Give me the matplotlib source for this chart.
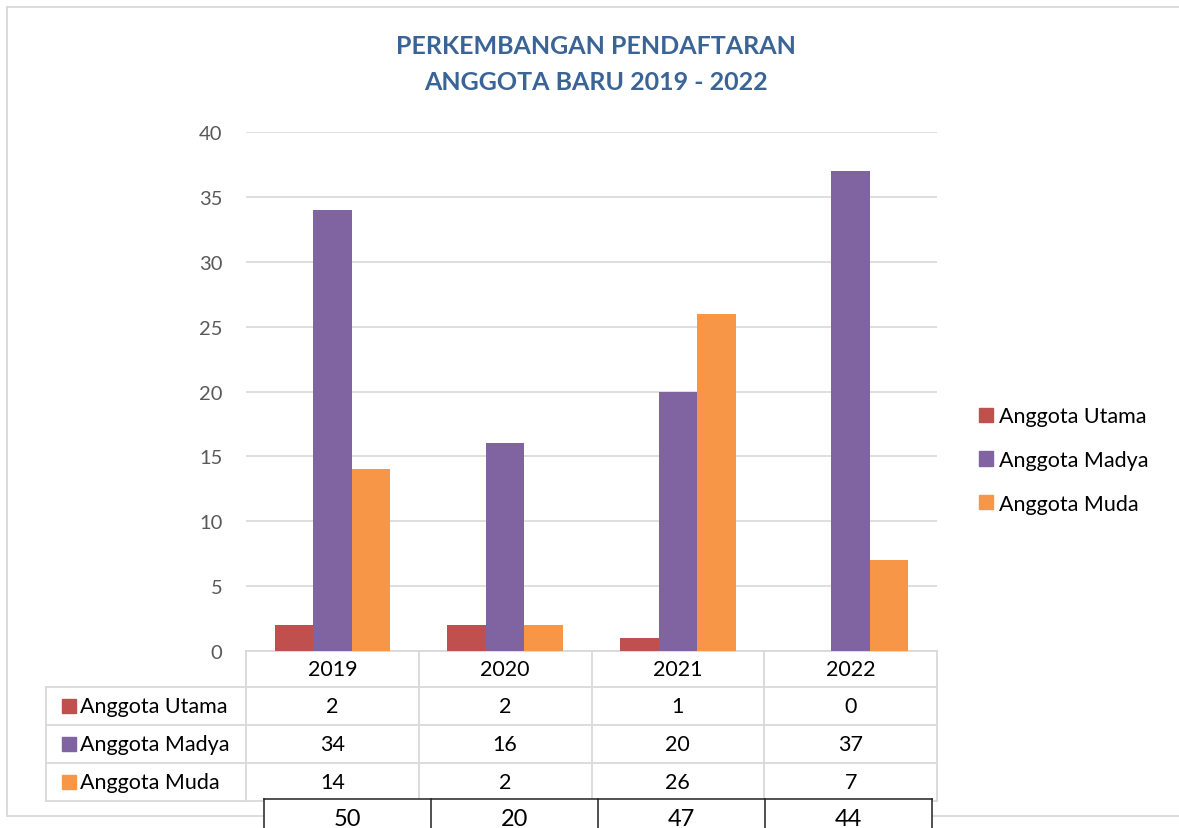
import matplotlib.pyplot as plt
import numpy as np
from matplotlib.patches import Rectangle, Patch

# data
years = ["2019", "2020", "2021", "2022"]
series = ["Anggota Utama", "Anggota Madya", "Anggota Muda"]
utama = [2, 2, 1, 0]
madya = [34, 16, 20, 37]
muda = [14, 2, 26, 7]
values = [utama, madya, muda]
colors = ["#C0504D", "#8064A2", "#F79646"]
title_lines = ["PERKEMBANGAN PENDAFTARAN", "ANGGOTA BARU 2019 - 2022"]

plt.rcParams['font.family'] = ['Lato', 'DejaVu Sans']

W, H = 1179, 829
fig = plt.figure(figsize=(W / 100, H / 100), dpi=100)

# plot area in pixels
PL, PR, PT, PB = 246, 937, 133, 652
colw = (PR - PL) / len(years)
fs = 15.5

ov = fig.add_axes([0, 0, 1, 1], zorder=0)
ov.set_xlim(0, W)
ov.set_ylim(H, 0)
ov.axis('off')

ax = fig.add_axes([PL / W, 1 - PB / H, (PR - PL) / W, (PB - PT) / H], zorder=1)
ax.patch.set_visible(False)

x = np.arange(len(years))
bw = 0.2225
for i, (name, vals) in enumerate(zip(series, values)):
    ax.bar(x + (i - 1) * bw, vals, bw, color=colors[i], label=name, zorder=3)

ax.set_xlim(-0.5, len(years) - 0.5)
ax.set_ylim(0, 40)
ax.set_yticks(range(0, 41, 5))
ax.set_xticks([])
ax.tick_params(axis='y', length=0, pad=17, labelsize=14.5, labelcolor='#595959')
ax.yaxis.grid(True, color='#D9D9D9', lw=1.2, zorder=0)
for s in ax.spines.values():
    s.set_visible(False)

grid_c = '#D9D9D9'
# outer frame
ov.plot([7, W + 5], [8, 8], color=grid_c, lw=1.3)
ov.plot([7, 7], [8, 817], color=grid_c, lw=1.3)
ov.plot([7, W + 5], [817, 817], color=grid_c, lw=1.3)

# data table under the chart
row_h = 38
hdr_top, hdr_bot = PB, 688
label_left = 46
rows_y = [hdr_bot + k * row_h for k in range(len(series) + 1)]
ov.plot([PL, PR], [hdr_top, hdr_top], color=grid_c, lw=1.3)
for yy in rows_y:
    ov.plot([label_left, PR], [yy, yy], color=grid_c, lw=1.3)
for k in range(len(years) + 1):
    xx = PL + k * colw
    ov.plot([xx, xx], [hdr_top, rows_y[-1]], color=grid_c, lw=1.3)
ov.plot([label_left, label_left], [hdr_bot, rows_y[-1]], color=grid_c, lw=1.3)

for j, yr in enumerate(years):
    ov.text(PL + (j + 0.5) * colw, (hdr_top + hdr_bot) / 2, yr,
            ha='center', va='center', fontsize=fs, color='black')
for i, (name, vals) in enumerate(zip(series, values)):
    yc = rows_y[i] + row_h / 2
    ov.add_patch(Rectangle((62, yc - 7), 14, 14, color=colors[i]))
    ov.text(80, yc, name, ha='left', va='center', fontsize=fs, color='black')
    for j, v in enumerate(vals):
        ov.text(PL + (j + 0.5) * colw, yc, str(v), ha='center', va='center',
                fontsize=fs, color='black')

# totals row pasted below
totals = [sum(v) for v in zip(*values)]
tx0, tcw, ttop = 264, 167, 800
ov.add_patch(Rectangle((tx0, ttop), tcw * len(totals), 40, facecolor='white',
                       edgecolor='none', zorder=4))
ov.plot([tx0, tx0 + tcw * len(totals)], [ttop, ttop], color='#222222', lw=1.1, zorder=5)
for k in range(len(totals) + 1):
    ov.plot([tx0 + k * tcw] * 2, [ttop, H + 5], color='#222222', lw=1.1, zorder=5)
for j, t in enumerate(totals):
    ov.text(tx0 + (j + 0.5) * tcw, 820, str(t), ha='center', va='center',
            fontsize=17, color='black', zorder=6)

# title
for k, line in enumerate(title_lines):
    fig.text(596 / W, 1 - (47 + 36 * k) / H, line, ha='center', va='center',
             fontsize=18, fontweight='bold', color='#3A6496')

# legend
handles = [Patch(color=c, label=n) for c, n in zip(colors, series)]
fig.legend(handles=handles, loc='center left', bbox_to_anchor=(979 / W, 1 - 461 / H),
           frameon=False, fontsize=fs, handlelength=0.65, handleheight=0.65,
           handletextpad=0.3, labelspacing=1.1, borderpad=0, borderaxespad=0)

fig.savefig('out.png', dpi=100)
